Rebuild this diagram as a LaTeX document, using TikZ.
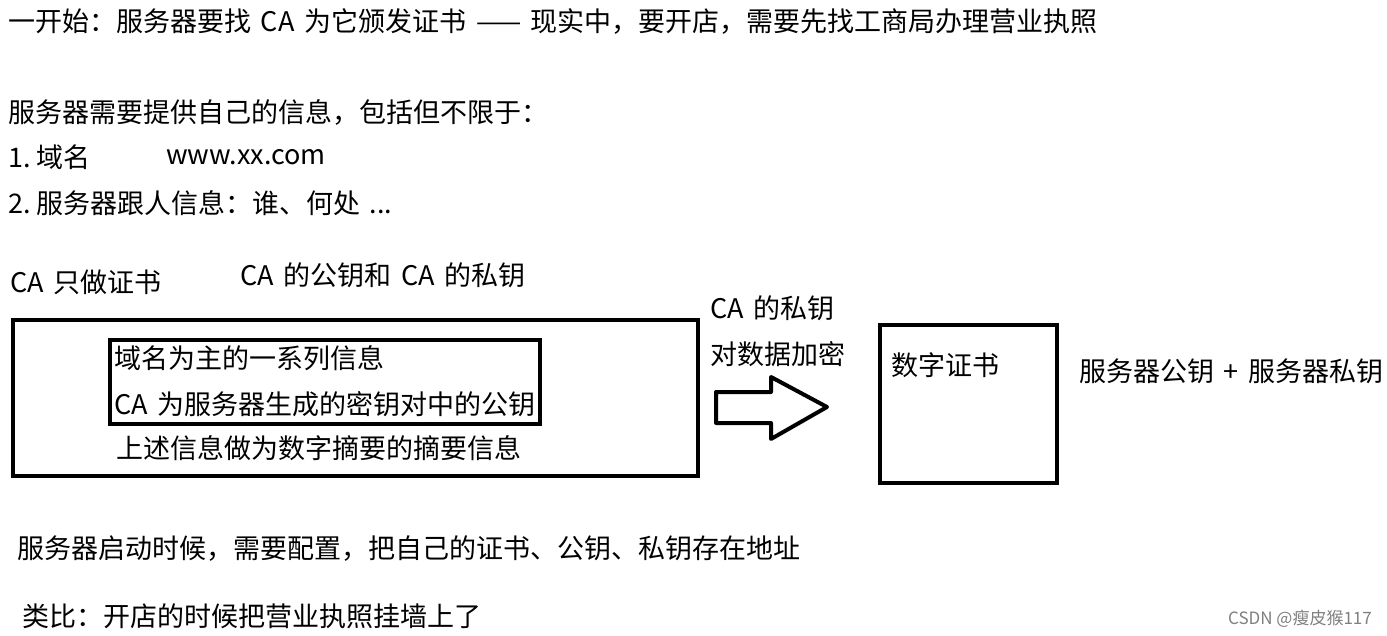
\documentclass[tikz,border=0pt]{standalone}
\usepackage{fontspec}
\setmainfont{Noto Sans CJK SC}
\newcommand{\widespaces}{\spaceskip=0.36em\relax\xspaceskip=0.2em\relax}
\begin{document}
\begin{tikzpicture}[x=1pt,y=-1pt,
  txt/.style={anchor=west,inner sep=0pt,font=\fontsize{27}{31}\selectfont,execute at begin node=\widespaces},
  box/.style={draw,line width=4pt,inner sep=0pt,outer sep=0pt},
  blockarrow/.style={draw,line width=4pt,line join=round,fill=white}]
\useasboundingbox[fill=white] (0,0) rectangle (1387,636);
\node[txt] (l1) at (8,22) {一开始：服务器要找 CA 为它颁发证书 —— 现实中，要开店，需要先找工商局办理营业执照};
\node[txt] (l2) at (8,112) {服务器需要提供自己的信息，包括但不限于：};
\node[txt] (l3) at (8,157) {1. 域名};
\node[txt] (l3b) at (166,157) {www.xx.com};
\node[txt] (l4) at (8,203) {2. 服务器跟人信息：谁、何处 ...};
\node[txt] (ca1) at (10,282) {CA 只做证书};
\node[txt] (ca2) at (240,275) {CA 的公钥和 CA 的私钥};
\node[box,minimum width=685pt,minimum height=156pt] (outer) at (355.5,398) {};
\node[box,minimum width=430pt,minimum height=84pt] (inner) at (325,382) {};
\node[txt] (i1) at (114,358) {域名为主的一系列信息};
\node[txt] (i2) at (114,404) {CA 为服务器生成的密钥对中的公钥};
\node[txt] (i3) at (116,448) {上述信息做为数字摘要的摘要信息};
\node[txt] (k1) at (710,308) {CA 的私钥};
\node[txt] (k2) at (710,354) {对数据加密};
\draw[blockarrow] (716,392) -- (771,392) -- (771,377) -- (827,407) -- (771,439) -- (771,423) -- (716,423) -- cycle;
\node[box,minimum width=177pt,minimum height=158pt] (cert) at (968.5,404) {};
\node[txt] (c1) at (891,365) {数字证书};
\node[txt] (c2) at (1079,371) {服务器公钥 + 服务器私钥};
\node[txt] (b1) at (17,549) {服务器启动时候，需要配置，把自己的证书、公钥、私钥存在地址};
\node[txt] (b2) at (22,616) {类比：开店的时候把营业执照挂墙上了};
\node[anchor=east,inner sep=0pt,font=\fontsize{17}{19}\selectfont,text=gray] (wm) at (1372,619) {CSDN @瘦皮猴117};
\end{tikzpicture}
\end{document}
